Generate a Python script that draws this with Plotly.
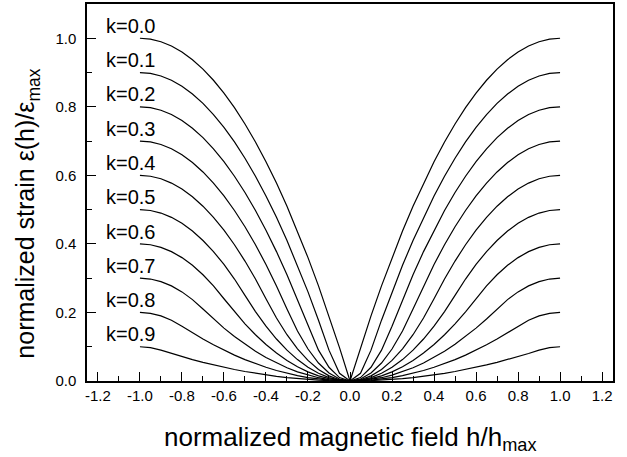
import plotly.graph_objects as go

# normalized field (positive half; the chart is symmetric in h)
h_pos = [0.0, 0.05, 0.10, 0.15, 0.20, 0.25, 0.30, 0.35, 0.40, 0.45, 0.50,
         0.55, 0.60, 0.65, 0.70, 0.75, 0.80, 0.85, 0.90, 0.95, 1.00]

k_labels = ["k=0.0", "k=0.1", "k=0.2", "k=0.3", "k=0.4",
            "k=0.5", "k=0.6", "k=0.7", "k=0.8", "k=0.9"]

strain_k00 = [0.0, 0.0975, 0.19, 0.2775, 0.36, 0.4375, 0.51, 0.5775, 0.64, 0.6975, 0.75,
              0.7975, 0.84, 0.8775, 0.91, 0.9375, 0.96, 0.9775, 0.99, 0.9975, 1.0]
strain_k01 = [0.0, 0.0225, 0.09, 0.1775, 0.26, 0.3375, 0.41, 0.4775, 0.54, 0.5975, 0.65,
              0.6975, 0.74, 0.7775, 0.81, 0.8375, 0.86, 0.8775, 0.89, 0.8975, 0.9]
strain_k02 = [0.0, 0.01, 0.04, 0.09, 0.16, 0.2375, 0.31, 0.3775, 0.44, 0.4975, 0.55,
              0.5975, 0.64, 0.6775, 0.71, 0.7375, 0.76, 0.7775, 0.79, 0.7975, 0.8]
strain_k03 = [0.0, 0.0058, 0.0233, 0.0525, 0.0933, 0.1458, 0.21, 0.2775, 0.34, 0.3975, 0.45,
              0.4975, 0.54, 0.5775, 0.61, 0.6375, 0.66, 0.6775, 0.69, 0.6975, 0.7]
strain_k04 = [0.0, 0.0038, 0.015, 0.0338, 0.06, 0.0938, 0.135, 0.1838, 0.24, 0.2975, 0.35,
              0.3975, 0.44, 0.4775, 0.51, 0.5375, 0.56, 0.5775, 0.59, 0.5975, 0.6]
strain_k05 = [0.0, 0.0025, 0.01, 0.0225, 0.04, 0.0625, 0.09, 0.1225, 0.16, 0.2025, 0.25,
              0.2975, 0.34, 0.3775, 0.41, 0.4375, 0.46, 0.4775, 0.49, 0.4975, 0.5]
strain_k06 = [0.0, 0.0017, 0.0067, 0.015, 0.0267, 0.0417, 0.06, 0.0817, 0.1067, 0.135, 0.1667,
              0.2017, 0.24, 0.2775, 0.31, 0.3375, 0.36, 0.3775, 0.39, 0.3975, 0.4]
strain_k07 = [0.0, 0.0011, 0.0043, 0.0096, 0.0171, 0.0268, 0.0386, 0.0525, 0.0686, 0.0868, 0.1071,
              0.1296, 0.1543, 0.1811, 0.21, 0.2375, 0.26, 0.2775, 0.29, 0.2975, 0.3]
strain_k08 = [0.0, 0.0006, 0.0025, 0.0056, 0.01, 0.0156, 0.0225, 0.0306, 0.04, 0.0506, 0.0625,
              0.0756, 0.09, 0.1056, 0.1225, 0.1406, 0.16, 0.1775, 0.19, 0.1975, 0.2]
strain_k09 = [0.0, 0.0003, 0.0011, 0.0025, 0.0044, 0.0069, 0.01, 0.0136, 0.0178, 0.0225, 0.0278,
              0.0336, 0.04, 0.0469, 0.0544, 0.0625, 0.0711, 0.0803, 0.09, 0.0975, 0.1]

strain_series = [strain_k00, strain_k01, strain_k02, strain_k03, strain_k04,
                 strain_k05, strain_k06, strain_k07, strain_k08, strain_k09]

x_tick_vals = [-1.2, -1.0, -0.8, -0.6, -0.4, -0.2, 0.0, 0.2, 0.4, 0.6, 0.8, 1.0, 1.2]
x_tick_text = ["-1.2", "-1.0", "-0.8", "-0.6", "-0.4", "-0.2", "0.0",
               "0.2", "0.4", "0.6", "0.8", "1.0", "1.2"]
y_tick_vals = [0.0, 0.2, 0.4, 0.6, 0.8, 1.0]
y_tick_text = ["0.0", "0.2", "0.4", "0.6", "0.8", "1.0"]

x_title = "normalized magnetic field h/h<sub>max</sub>"
y_title = "normalized strain \u03b5(h)/\u03b5<sub>max</sub>"

FONT = "Liberation Sans, Arial, sans-serif"

fig = go.Figure()
for vals in strain_series:
    xs = [-h for h in reversed(h_pos)] + h_pos[1:]
    ys = list(reversed(vals)) + vals[1:]
    fig.add_trace(go.Scatter(x=xs, y=ys, mode="lines",
                             line=dict(color="black", width=1.2),
                             showlegend=False, hoverinfo="skip"))

for lab, v in zip(k_labels, strain_series):
    fig.add_annotation(x=-1.172, y=v[-1] + 0.036, text=lab, showarrow=False,
                       xanchor="left", yanchor="middle",
                       font=dict(family=FONT, size=20, color="black"))

# axis titles placed as paper-referenced annotations
fig.add_annotation(x=0.5, y=-0.152, xref="paper", yref="paper", text=x_title,
                   showarrow=False, xanchor="center", yanchor="middle",
                   font=dict(family=FONT, size=26, color="black"))
fig.add_annotation(x=-0.114, y=0.444, xref="paper", yref="paper", text=y_title,
                   showarrow=False, xanchor="center", yanchor="middle", textangle=-90,
                   font=dict(family=FONT, size=25, color="black"))

axis_common = dict(showline=True, linecolor="black", linewidth=1.5, mirror=True,
                   ticks="inside", ticklen=9, tickwidth=1.2, tickcolor="black",
                   showgrid=False, zeroline=False, automargin=False,
                   tickfont=dict(family=FONT, size=15, color="black"))

fig.update_xaxes(range=[-1.252, 1.252], tickmode="array", tickvals=x_tick_vals,
                 ticktext=x_tick_text,
                 minor=dict(dtick=0.1, tick0=0, ticks="inside", ticklen=5,
                            tickwidth=1.2, tickcolor="black"),
                 **axis_common)
fig.update_yaxes(range=[0, 1.1], tickmode="array", tickvals=y_tick_vals,
                 ticktext=y_tick_text, ticklabelstandoff=6,
                 minor=dict(dtick=0.1, tick0=0, ticks="inside", ticklen=5,
                            tickwidth=1.2, tickcolor="black"),
                 **axis_common)

fig.update_layout(width=627, height=457,
                  margin=dict(l=87, r=14, t=4, b=76, autoexpand=False),
                  paper_bgcolor="white", plot_bgcolor="white",
                  font=dict(family=FONT, color="black"))

# remove the default page margin so the 627x457 figure fills the window exactly
fig.write_html("out.html", config={"displayModeBar": False},
               post_script="document.body.style.margin='0';")
